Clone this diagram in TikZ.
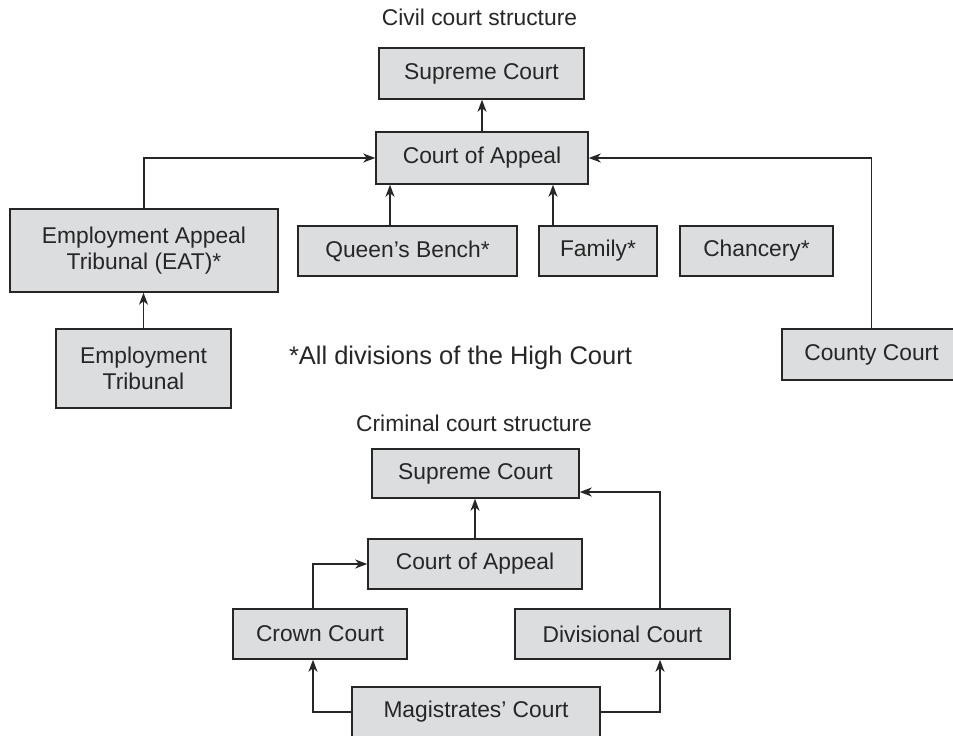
\documentclass[tikz,border=0pt]{standalone}
\usepackage{fontspec}
\setmainfont{Liberation Sans}
\usetikzlibrary{arrows.meta}
\definecolor{boxfill}{HTML}{DCDDDF}
\definecolor{ink}{HTML}{262626}
\tikzset{
  box/.style={draw=ink, fill=boxfill, line width=1.5pt, inner sep=0pt, align=center,
    text=ink, font=\fontsize{22.8}{26}\selectfont},
  lbl/.style={text=ink, font=\fontsize{22.8}{26}\selectfont, inner sep=0pt},
  arr/.style={draw=ink, line width=1.4pt, -{Stealth[length=12pt,width=9pt,inset=3.5pt]}},
}
\begin{document}
\begin{tikzpicture}[x=1pt,y=-1pt]
\useasboundingbox (0,0) rectangle (953,736);
% titles and note
\node[lbl] (ttlcivil) at (479.5,17) {Civil court structure};
\node[lbl, font=\fontsize{25.5}{28}\selectfont] (note) at (460.5,358) {*All divisions of the High Court};
\node[lbl] (ttlcrim) at (474,423) {Criminal court structure};
% civil boxes
\node[box, minimum width=205pt, minimum height=51pt] (cSC) at (481.5,73.5) {Supreme Court};
\node[box, minimum width=212pt, minimum height=52pt] (cCA) at (482,158) {Court of Appeal};
\node[box, minimum width=268pt, minimum height=83pt] (EAT) at (144,250.5) {Employment Appeal\\Tribunal (EAT)*};
\node[box, minimum width=219pt, minimum height=50pt] (QB) at (407.5,251) {Queen’s Bench*};
\node[box, minimum width=118pt, minimum height=50pt] (Fam) at (598,251) {Family*};
\node[box, minimum width=153pt, minimum height=50pt] (Chan) at (756.5,251) {Chancery*};
\node[box, minimum width=175pt, minimum height=79pt] (ET) at (143.5,368.5) {Employment\\Tribunal};
\node[box, minimum width=179pt, minimum height=51pt] (County) at (871.5,354.5) {County Court};
% civil connectors
\draw[arr] (cCA.north) -- (cCA.north |- cSC.south);
\draw[arr] (EAT.north) |- (cCA.west);
\draw[arr] ([xshift=-17.5pt]QB.north) -- ([xshift=-17.5pt]QB.north |- cCA.south);
\draw[arr] ([xshift=-45pt]Fam.north) -- ([xshift=-45pt]Fam.north |- cCA.south);
\draw[arr] (County.north) |- (cCA.east);
\draw[arr] (ET.north) -- (ET.north |- EAT.south);
% criminal boxes
\node[box, minimum width=207pt, minimum height=49pt] (kSC) at (475.5,473.5) {Supreme Court};
\node[box, minimum width=214pt, minimum height=50pt] (kCA) at (475,564) {Court of Appeal};
\node[box, minimum width=174pt, minimum height=50pt] (Crown) at (320,634) {Crown Court};
\node[box, minimum width=215pt, minimum height=50pt] (Div) at (622.5,634) {Divisional Court};
\node[box, minimum width=248pt, minimum height=50pt] (Mag) at (476,712) {Magistrates’ Court};
% criminal connectors
\draw[arr] (kCA.north) -- (kCA.north |- kSC.south);
\draw[arr] ([xshift=-7pt]Crown.north) |- (kCA.west);
\draw[arr] ([xshift=37.5pt]Div.north) |- ([yshift=-18.5pt]kSC.east);
\draw[arr] (Mag.west) -| ([xshift=-7pt]Crown.south);
\draw[arr] (Mag.east) -| ([xshift=37.5pt]Div.south);
\end{tikzpicture}
\end{document}
